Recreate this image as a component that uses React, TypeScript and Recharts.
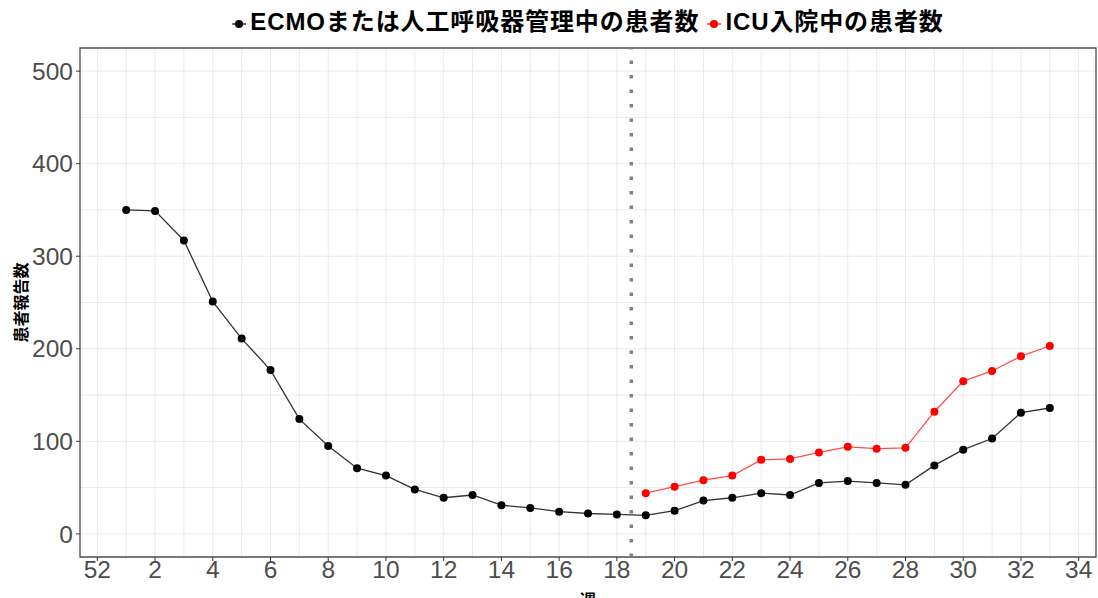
import React from "react";
import {
  LineChart,
  Line,
  XAxis,
  YAxis,
  CartesianGrid,
  ReferenceLine,
  ReferenceArea,
} from "recharts";

// week positions (week 52 of previous year sits at 0)
const weeks = [1, 2, 3, 4, 5, 6, 7, 8, 9, 10, 11, 12, 13, 14, 15, 16, 17, 18, 19, 20, 21, 22, 23, 24, 25, 26, 27, 28, 29, 30, 31, 32, 33];
const ecmoVent = [350, 349, 317, 251, 211, 177, 124, 95, 71, 63, 48, 39, 42, 31, 28, 24, 22, 21, 20, 25, 36, 39, 44, 42, 55, 57, 55, 53, 74, 91, 103, 131, 136];
const icuAdmit: (number | null)[] = [null, null, null, null, null, null, null, null, null, null, null, null, null, null, null, null, null, null, 44, 51, 58, 63, 80, 81, 88, 94, 92, 93, 132, 165, 176, 192, 203];

const xTickValues = [0, 2, 4, 6, 8, 10, 12, 14, 16, 18, 20, 22, 24, 26, 28, 30, 32, 34];
const xTickLabels = ["52", "2", "4", "6", "8", "10", "12", "14", "16", "18", "20", "22", "24", "26", "28", "30", "32", "34"];
const yTickValues = [0, 100, 200, 300, 400, 500];
const yGridValues = [0, 50, 100, 150, 200, 250, 300, 350, 400, 450, 500];
const xGridValues = Array.from({ length: 35 }, (_, i) => i);
const boundaryWeek = 18.5;

const seriesNames = ["ECMOまたは人工呼吸器管理中の患者数", "ICU入院中の患者数"];
const seriesColors = ["#000000", "#ff0000"];
const lineColors = ["#333333", "#ff4d4d"];

const data = weeks.map((w, i) => ({ x: w, ecmo: ecmoVent[i], icu: icuAdmit[i] }));

const tickFont = { fontFamily: "'Liberation Sans', Arial, sans-serif", fontSize: 24.5, fill: "#4d4d4d" };

const LegendIcon = ({ color }: { color: string }) => (
  <svg width={14} height={14} style={{ marginRight: 4, verticalAlign: "middle" }}>
    <line x1={0} y1={7} x2={14} y2={7} stroke={color} strokeWidth={1.2} />
    <circle cx={7} cy={7} r={4} fill={color} />
  </svg>
);

export default function App() {
  return (
    <div style={{ position: "relative", width: 1098, height: 598, background: "#fff" }}>
      <style>{`body{margin:0;}`}</style>
      <div
        style={{
          position: "absolute",
          top: 4,
          left: 80,
          width: 1016,
          textAlign: "center",
          fontFamily: "'Liberation Sans', 'Noto Sans CJK JP', sans-serif",
          fontWeight: "bold",
          fontSize: 24,
          letterSpacing: 0.9,
          color: "#000",
          lineHeight: "36px",
          whiteSpace: "nowrap",
        }}
      >
        {seriesNames.map((n, i) => (
          <span key={n} style={{ marginRight: i === 0 ? 8 : 0 }}>
            <LegendIcon color={seriesColors[i]} />
            {n}
          </span>
        ))}
      </div>
      <LineChart
        width={1098}
        height={598}
        data={data}
        margin={{ top: 48, right: 2, bottom: 0, left: 0 }}
      >
        <CartesianGrid
          stroke="#ebebeb"
          strokeWidth={1}
          horizontalValues={yGridValues}
          verticalValues={xGridValues}
        />
        <ReferenceArea
          x1={-0.6}
          x2={34.6}
          y1={-25}
          y2={525}
          fill="none"
          stroke="#4d4d4d"
          strokeWidth={1.3}
        />
        <XAxis
          type="number"
          dataKey="x"
          domain={[-0.6, 34.6]}
          ticks={xTickValues}
          tickFormatter={(v: number) => xTickLabels[xTickValues.indexOf(v)] ?? String(v)}
          allowDataOverflow
          axisLine={false}
          tickLine={{ stroke: "#333" }}
          tickSize={4}
          tickMargin={0}
          tick={tickFont}
          height={41}
          interval={0}
          label={{
            value: "週",
            position: "insideBottom",
            offset: -8,
            style: { fontFamily: "'Noto Sans CJK JP', sans-serif", fontWeight: "bold", fontSize: 16, fill: "#000" },
          }}
        />
        <YAxis
          type="number"
          domain={[-25, 525]}
          ticks={yTickValues}
          allowDataOverflow
          axisLine={false}
          tickLine={{ stroke: "#333" }}
          tickSize={4}
          tickMargin={3}
          tick={tickFont}
          width={80}
          interval={0}
          label={{
            value: "患者報告数",
            angle: -90,
            position: "insideLeft",
            offset: 21,
            style: { fontFamily: "'Noto Sans CJK JP', sans-serif", fontWeight: "bold", fontSize: 16, fill: "#000", textAnchor: "middle" },
          }}
        />
        <ReferenceLine
          x={boundaryWeek}
          stroke="#808080"
          strokeWidth={3.5}
          strokeDasharray="3.5 11"
        />
        <Line
          type="linear"
          dataKey="ecmo"
          stroke={lineColors[0]}
          strokeWidth={1.3}
          dot={{ r: 4, fill: seriesColors[0], stroke: seriesColors[0], strokeWidth: 0 }}
          activeDot={false}
          isAnimationActive={false}
        />
        <Line
          type="linear"
          dataKey="icu"
          stroke={lineColors[1]}
          strokeWidth={1.3}
          dot={{ r: 4, fill: seriesColors[1], stroke: seriesColors[1], strokeWidth: 0 }}
          activeDot={false}
          isAnimationActive={false}
        />
      </LineChart>
    </div>
  );
}
